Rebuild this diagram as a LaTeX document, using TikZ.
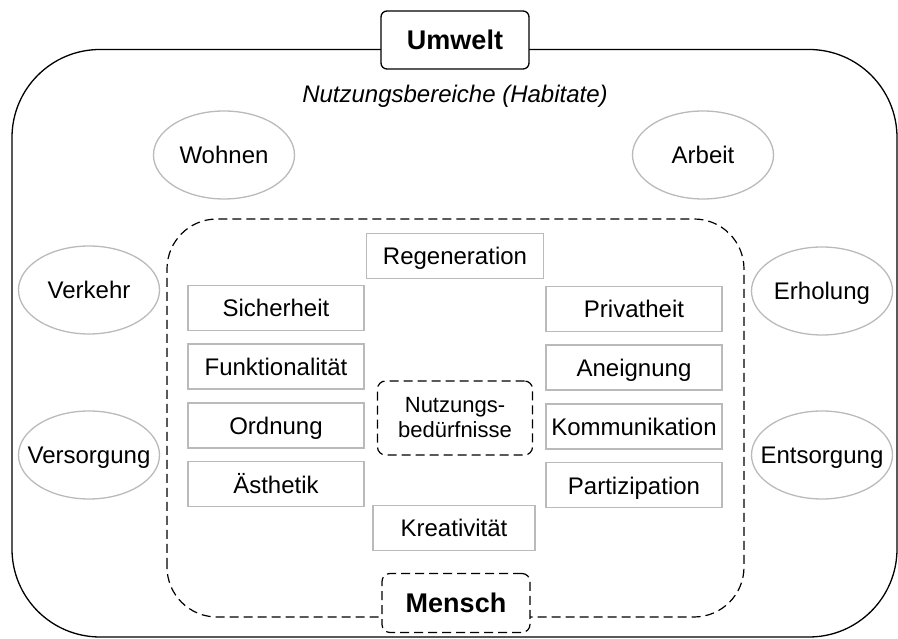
\documentclass[tikz,border=0pt]{standalone}
\usepackage{fontspec}
\setmainfont{Liberation Sans}
\usetikzlibrary{positioning}
\usetikzlibrary{shapes.geometric}

\begin{document}
\begin{tikzpicture}
		[x=1pt, y=1pt, font=\fontsize{24}{28}\selectfont,
		bereich/.style={ellipse, draw=black!27, line width=1.3pt, minimum width=141pt, minimum height=88pt, inner xsep=-15pt, inner ysep=0pt, text height=17pt, text depth=0pt},
		bedarf/.style={rectangle, draw=black!27, line width=1.5pt, minimum width=176pt, minimum height=45pt, text height=18pt, text depth=0pt, node distance=12.2pt},
		gestrichelt/.style={draw=black, line width=1.2pt, dash pattern=on 9pt off 5pt}]
		\useasboundingbox (0,0) rectangle (898,639);

		% Umwelt und Mensch als Rahmen
		\draw[line width=1.3pt, rounded corners=88pt] (12,2) rectangle (897,589.5);
		\draw[gestrichelt, rounded corners=50pt] (167,22) rectangle (744,420);
		\node[draw, line width=1.3pt, fill=white, rounded corners=6pt, minimum width=148pt, minimum height=58pt, font=\fontsize{27}{30}\selectfont\bfseries] (umwelt) at (455,599) {Umwelt};
		\node[gestrichelt, fill=white, rounded corners=8pt, minimum width=148pt, minimum height=59pt, font=\fontsize{27}{30}\selectfont\bfseries] (mensch) at (456,36) {Mensch};

		\node[font=\fontsize{24}{28}\selectfont\itshape] (habitate) at (455,543) {Nutzungsbereiche (Habitate)};

		% Nutzungsbereiche
		\node[bereich] (wohnen) at (224,484) {Wohnen};
		\node[bereich] (arbeit) at (703,484) {Arbeit};
		\node[bereich] (verkehr) at (89,349) {Verkehr};
		\node[bereich] (erholung) at (822,348) {Erholung};
		\node[bereich] (versorgung) at (89,184) {Versorgung};
		\node[bereich] (entsorgung) at (822,184) {Entsorgung};

		% Nutzungsbeduerfnisse
		\node[gestrichelt, rounded corners=8pt, minimum width=155pt, minimum height=74pt, align=center, font=\fontsize{22}{25}\selectfont] (beduerfnisse) at (455,221) {Nutzungs-\\bedürfnisse};

		\node[bedarf, minimum width=177pt] (regeneration) at (455,383) {Regeneration};
		\node[bedarf, minimum width=162pt] (kreativ) at (454,111) {Kreativität};

		\node[bedarf] (sicherheit) at (276,331) {Sicherheit};
		\node[bedarf, below=of sicherheit] (funktion) {Funktionalität};
		\node[bedarf, below=of funktion] (ordnung) {Ordnung};
		\node[bedarf, below=of ordnung] (aesthetik) {Ästhetik};

		\node[bedarf] (privat) at (634,330) {Privatheit};
		\node[bedarf, below=of privat] (aneignung) {Aneignung};
		\node[bedarf, below=of aneignung] (kommunikation) {Kommunikation};
		\node[bedarf, below=of kommunikation] (partizipation) {Partizipation};
	\end{tikzpicture}
\end{document}
